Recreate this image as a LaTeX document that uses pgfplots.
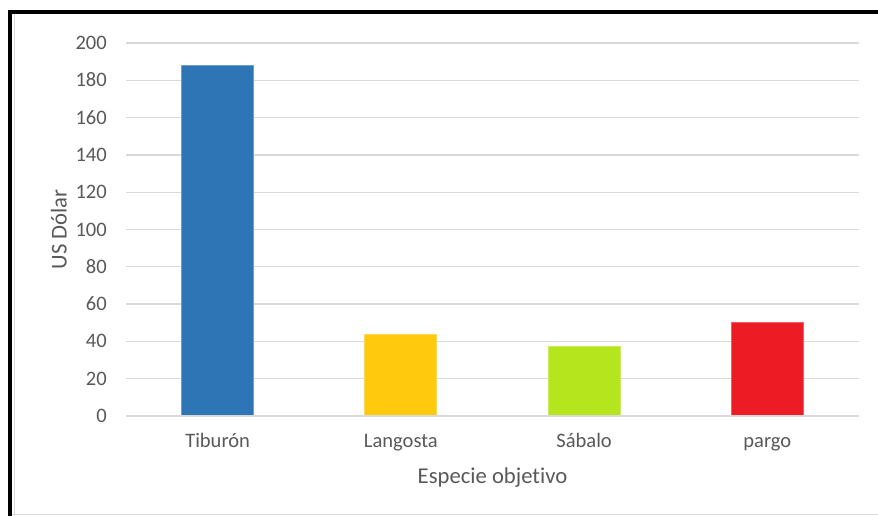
\documentclass[border=0pt]{standalone}
\usepackage{fontspec}
\setmainfont{Carlito}[Ligatures=NoCommon, RawFeature={-liga;-clig}]
\usepackage{pgfplots}
\pgfplotsset{compat=1.18}
\definecolor{txt}{HTML}{595959}
\definecolor{gridc}{HTML}{D9D9D9}
\definecolor{cblue}{HTML}{2E75B6}
\definecolor{cyel}{HTML}{FFC90E}
\definecolor{cgreen}{HTML}{B5E61D}
\definecolor{cred}{HTML}{ED1C24}
\begin{document}
\begin{tikzpicture}
\path[use as bounding box] (0,0) rectangle (658.5pt,387pt);
\fill[white] (0,0) rectangle (658.5pt,387pt);
\draw[gridc, line width=1pt] (7.5pt,1.2pt) -- (658.5pt,1.2pt);
\draw[gridc, line width=0.8pt] (10.8pt,1.2pt) -- (10.8pt,377pt);
\draw[black, line width=3pt] (658.5pt,378pt) -- (7.5pt,378pt) -- (7.5pt,0pt);
\begin{axis}[
  at={(94.5pt,75pt)}, anchor=south west,
  scale only axis, width=549.75pt, height=279.75pt,
  ybar, bar width=54pt, bar shift=0pt,
  xmin=-0.5, xmax=3.5, ymin=0, ymax=200,
  xtick={0,1,2,3},
  xticklabels={Tiburón,Langosta,Sábalo,pargo},
  ytick={0,20,...,200},
  /pgf/number format/assume math mode=true,
  axis line style={draw=none},
  axis x line*=bottom, axis y line*=left,
  major tick length=0pt,
  ymajorgrids, grid style={gridc, line width=1pt},
  tick label style={font=\fontsize{15.4pt}{18pt}\selectfont, text=txt},
  xticklabel style={anchor=base, inner sep=0pt, yshift=-24pt},
  yticklabel style={anchor=base east, inner sep=0pt, xshift=-14.25pt, yshift=-4.9pt},
  xlabel={Especie objet\kern0pt ivo},
  ylabel={US Dólar},
  label style={text=txt, font=\fontsize{17pt}{20pt}\selectfont},
  xlabel style={at={([yshift=-51pt]axis description cs:0.5,0)}, anchor=base},
  ylabel style={at={([xshift=-44.5pt]axis description cs:0,0.5)}, anchor=base, rotate=0},
  clip=false,
]
\addplot[fill=cblue, draw=cblue!70!white, line width=0.6pt] coordinates {(0,188)};
\addplot[fill=cyel, draw=cyel!70!white, line width=0.6pt] coordinates {(1,44)};
\addplot[fill=cgreen, draw=cgreen!70!white, line width=0.6pt] coordinates {(2,37.5)};
\addplot[fill=cred, draw=cred!70!white, line width=0.6pt] coordinates {(3,50.3)};
\draw[gridc, line width=1.2pt] (axis cs:-0.5,0) -- (axis cs:3.5,0);
\end{axis}
\end{tikzpicture}
\end{document}
